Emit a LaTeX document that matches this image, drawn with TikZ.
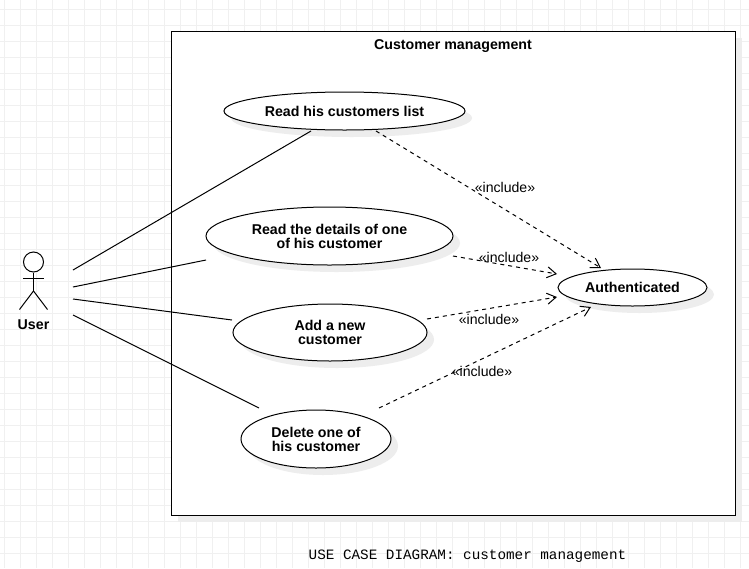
\documentclass[tikz,border=0pt]{standalone}
\usepackage{fontspec}
\setmainfont{Liberation Sans}
\setmonofont{Liberation Mono}
\usetikzlibrary{positioning,shapes.geometric,shadows,arrows.meta}

\begin{document}
\begin{tikzpicture}[x=1pt,y=-1pt,node distance=40pt,line width=1pt,>={Straight Barb[length=9pt,width=11pt]}]
	\tikzstyle{gridline}=[draw=black!6,line width=0.8pt]
	\tikzstyle{softshadow}=[drop shadow={shadow xshift=7pt,shadow yshift=-7pt,fill=black!7,opacity=1}]
	\tikzstyle{usecase}=[ellipse,draw,fill=white,softshadow,inner sep=0pt,align=center,font=\fontsize{14.2}{14}\selectfont\bfseries]
	\tikzstyle{includeline}=[->,dashed,dash pattern=on 4pt off 4pt]
	\tikzstyle{includelabel}=[inner sep=0pt,font=\fontsize{14.1}{14}\selectfont]
	\useasboundingbox (0,0) rectangle (749,568);
	\fill[white] (0,0) rectangle (749,568);
	\foreach \x in {0,...,46}
		\draw[gridline] (4.7+16*\x,0) -- (4.7+16*\x,568);
	\foreach \y in {0,...,34}
		\draw[gridline] (0,9.3+16*\y) -- (749,9.3+16*\y);
		\node[draw,fill=white,softshadow,minimum width=564pt,minimum height=484pt,inner sep=0pt] (frame) at (453,273) {};
		\node[font=\fontsize{14.2}{14}\selectfont\bfseries,inner sep=0pt] (title) at (453,46.5) {Customer management};
		\node[usecase, minimum width=241pt, minimum height=38pt] (read) at (344.5,111) {Read his customers list};
		\node[usecase, minimum width=247pt, minimum height=58pt] (details) [below=76pt of read, xshift=-15pt] {Read the details of one\\of his customer};
		\node[usecase, minimum width=194pt, minimum height=57pt] (add) [below=38pt of details, xshift=0.5pt] {Add a new\\customer};
		\node[usecase, minimum width=150pt, minimum height=58pt] (delete) [below=48pt of add, xshift=-14pt] {Delete one of\\his customer};
		\node[usecase, minimum width=149pt, minimum height=37pt] (auth) at (632.5,287.5) {Authenticated};
		% actor
		\node[circle,draw,fill=white,minimum size=20pt,inner sep=0pt] (head) at (33.5,262) {};
		\coordinate (hip) at (33.5,291);
		\coordinate (armL) at (23.3,278.5);
		\coordinate (armR) at (43.7,278.5);
		\coordinate (legL) at (19.5,309.5);
		\coordinate (legR) at (47.5,309.5);
			\draw (head) -- (hip);
			\draw (armL) -- (armR);
			\draw (legL) -- (hip) -- (legR);
		\node[font=\fontsize{14.2}{14}\selectfont\bfseries,inner sep=0pt] (user) at (33.5,325) {User};
		% free ends of the associations
		\coordinate (u1) at (73,270);
		\coordinate (u2) at (73,287);
		\coordinate (u3) at (73,299);
		\coordinate (u4) at (73,315);
		\coordinate (r1) at (311,131);
		\coordinate (d1) at (206,260);
		\coordinate (a1) at (232,320);
		\coordinate (e1) at (259,408);
			\draw (u1) -- (r1);
			\draw (u2) -- (d1);
			\draw (u3) -- (a1);
			\draw (u4) -- (e1);
		% free ends of the includes
		\coordinate (r2) at (376,131);
		\coordinate (d2) at (453,256);
		\coordinate (a2) at (427,319);
		\coordinate (e2) at (379,408);
		\coordinate (t1) at (601,268);
		\coordinate (t2) at (557,274);
		\coordinate (t3) at (557,297);
		\coordinate (t4) at (591,307);
			\draw[includeline] (r2) -- (t1);
			\draw[includeline] (d2) -- (t2);
			\draw[includeline] (a2) -- (t3);
			\draw[includeline] (e2) -- (t4);
		\node[includelabel] (inc1) at (505,187) {«include»};
		\node[includelabel] (inc2) at (509,257) {«include»};
		\node[includelabel] (inc3) at (489,319) {«include»};
		\node[includelabel] (inc4) at (482,371) {«include»};
		\node[font=\fontsize{14.3}{14}\selectfont\ttfamily,inner sep=0pt] (caption) at (467.5,556.5) {USE CASE DIAGRAM: customer management};
\end{tikzpicture}
\end{document}
